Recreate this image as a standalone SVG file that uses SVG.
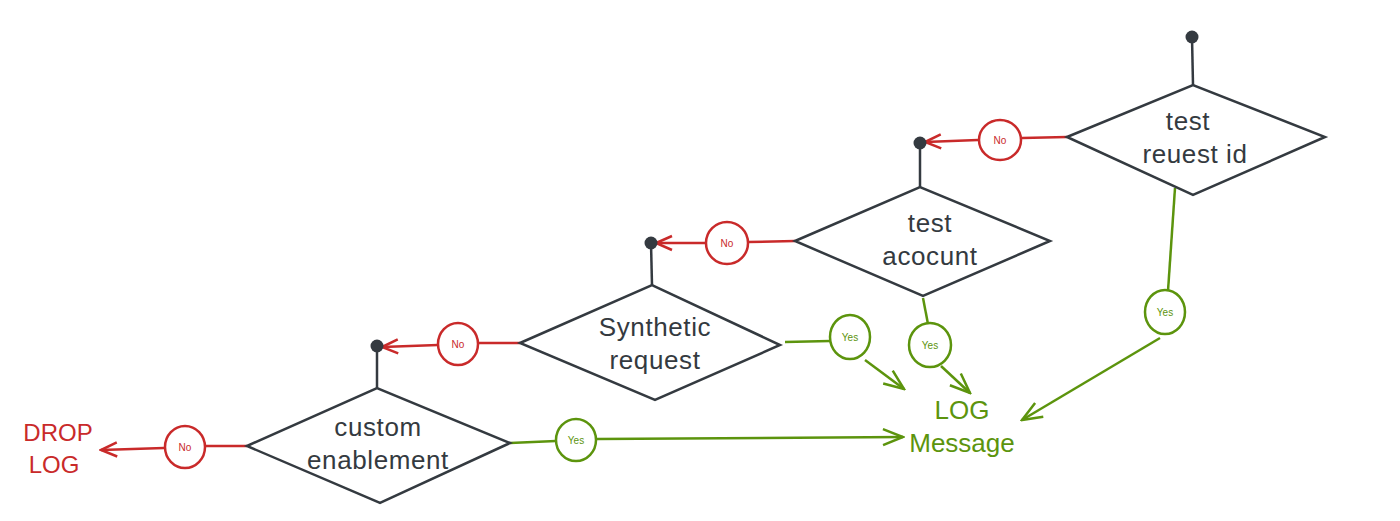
<svg xmlns="http://www.w3.org/2000/svg" width="1400" height="521" viewBox="0 0 1400 521">
<defs>
<style>
.d{fill:#fff;stroke:#343a40;stroke-width:2.5;stroke-linejoin:miter}
.stem{stroke:#343a40;stroke-width:2.5;fill:none}
.dot{fill:#343a40}
.r{stroke:#c92a2a;stroke-width:2.5;fill:none}
.g{stroke:#5c940d;stroke-width:2.5;fill:none}
.rc{stroke:#c92a2a;stroke-width:2.5;fill:#fff}
.gc{stroke:#5c940d;stroke-width:2.5;fill:#fff}
.t{font-family:"Liberation Sans",sans-serif;font-size:26px;letter-spacing:0.6px;fill:#343a40;text-anchor:middle}
.sr{font-family:"Liberation Sans",sans-serif;font-size:10px;fill:#c92a2a;text-anchor:middle}
.sg{font-family:"Liberation Sans",sans-serif;font-size:10px;fill:#5c940d;text-anchor:middle}
.br{font-family:"Liberation Sans",sans-serif;font-size:24px;fill:#c92a2a;text-anchor:middle}
.bg{font-family:"Liberation Sans",sans-serif;font-size:26px;fill:#5c940d;text-anchor:middle}
</style>
<marker id="ar" viewBox="0 0 20 20" refX="18" refY="10" markerWidth="20" markerHeight="20" markerUnits="userSpaceOnUse" orient="auto">
<polyline points="2,3 18,10 2,17" fill="none" stroke="#c92a2a" stroke-width="2.5"/>
</marker>
<marker id="ag" viewBox="0 0 24 24" refX="22" refY="12" markerWidth="24" markerHeight="24" markerUnits="userSpaceOnUse" orient="auto">
<polyline points="2,4 22,12 2,20" fill="none" stroke="#5c940d" stroke-width="2.5"/>
</marker>
</defs>
<rect width="1400" height="521" fill="#fff"/>

<g id="connectors">
<line class="stem" x1="377" y1="346" x2="377" y2="388"/>
<line class="stem" x1="651" y1="243" x2="652" y2="285"/>
<line class="stem" x1="920" y1="143" x2="920" y2="187"/>
<line class="stem" x1="1192" y1="37" x2="1193" y2="85"/>
<line class="r" x1="247" y1="446" x2="205" y2="446"/>
<line class="r" x1="164" y1="448" x2="101" y2="450" marker-end="url(#ar)"/>
<line class="r" x1="520" y1="343" x2="478" y2="343"/>
<line class="r" x1="438" y1="345" x2="382" y2="347" marker-end="url(#ar)"/>
<line class="r" x1="795" y1="241" x2="748" y2="242"/>
<line class="r" x1="706" y1="243" x2="656" y2="243" marker-end="url(#ar)"/>
<line class="r" x1="1067" y1="137" x2="1022" y2="138"/>
<line class="r" x1="978" y1="140" x2="925" y2="142" marker-end="url(#ar)"/>
<line class="g" x1="510" y1="443" x2="556" y2="441"/>
<line class="g" x1="597" y1="439" x2="903" y2="437" marker-end="url(#ag)"/>
<line class="g" x1="785" y1="342" x2="830" y2="341"/>
<line class="g" x1="865" y1="360" x2="904" y2="389" marker-end="url(#ag)"/>
<line class="g" x1="923" y1="298" x2="928" y2="324"/>
<line class="g" x1="941" y1="366" x2="970" y2="393" marker-end="url(#ag)"/>
<line class="g" x1="1175" y1="188" x2="1168" y2="291"/>
<line class="g" x1="1160" y1="338" x2="1022" y2="420" marker-end="url(#ag)"/>
</g>

<g id="dot1"><circle class="dot" cx="377" cy="346" r="6.5"/></g>
<g id="dot2"><circle class="dot" cx="651" cy="243" r="6.5"/></g>
<g id="dot3"><circle class="dot" cx="920" cy="143" r="6.5"/></g>
<g id="dot4"><circle class="dot" cx="1192" cy="37" r="6.5"/></g>

<g id="custom-enablement">
<polygon class="d" points="247,446 377,388 510,443 380,503"/>
<text class="t" x="378" y="436">custom</text>
<text class="t" x="378" y="469">enablement</text>
</g>
<g id="synthetic-request">
<polygon class="d" points="520,343 652,285 780,345 655,400"/>
<text class="t" x="655" y="336">Synthetic</text>
<text class="t" x="655" y="369">request</text>
</g>
<g id="test-account">
<polygon class="d" points="795,241 920,187 1050,241 923,296"/>
<text class="t" x="930" y="232">test</text>
<text class="t" x="930" y="265">acocunt</text>
</g>
<g id="test-request-id">
<polygon class="d" points="1067,137 1193,85 1325,137 1193,195"/>
<text class="t" x="1188" y="130">test</text>
<text class="t" x="1195" y="163">reuest id</text>
</g>

<g id="no1"><ellipse class="rc" cx="185" cy="447" rx="20" ry="21"/><text class="sr" x="185" y="451">No</text></g>
<g id="no2"><ellipse class="rc" cx="458" cy="344" rx="20" ry="21"/><text class="sr" x="458" y="348">No</text></g>
<g id="no3"><ellipse class="rc" cx="727" cy="243" rx="21" ry="21"/><text class="sr" x="727" y="247">No</text></g>
<g id="no4"><ellipse class="rc" cx="1000" cy="140" rx="21" ry="20"/><text class="sr" x="1000" y="144">No</text></g>

<g id="yes1"><ellipse class="gc" cx="576" cy="440" rx="20" ry="21"/><text class="sg" x="576" y="444">Yes</text></g>
<g id="yes2"><ellipse class="gc" cx="850" cy="337" rx="20" ry="22"/><text class="sg" x="850" y="341">Yes</text></g>
<g id="yes3"><ellipse class="gc" cx="930" cy="345" rx="21" ry="22"/><text class="sg" x="930" y="349">Yes</text></g>
<g id="yes4"><ellipse class="gc" cx="1165" cy="312" rx="20" ry="22"/><text class="sg" x="1165" y="316">Yes</text></g>

<g id="drop-log">
<text class="br" x="58" y="441">DROP</text>
<text class="br" x="54" y="473">LOG</text>
</g>
<g id="log-message">
<text class="bg" x="962" y="419">LOG</text>
<text class="bg" x="962" y="452">Message</text>
</g>
</svg>
